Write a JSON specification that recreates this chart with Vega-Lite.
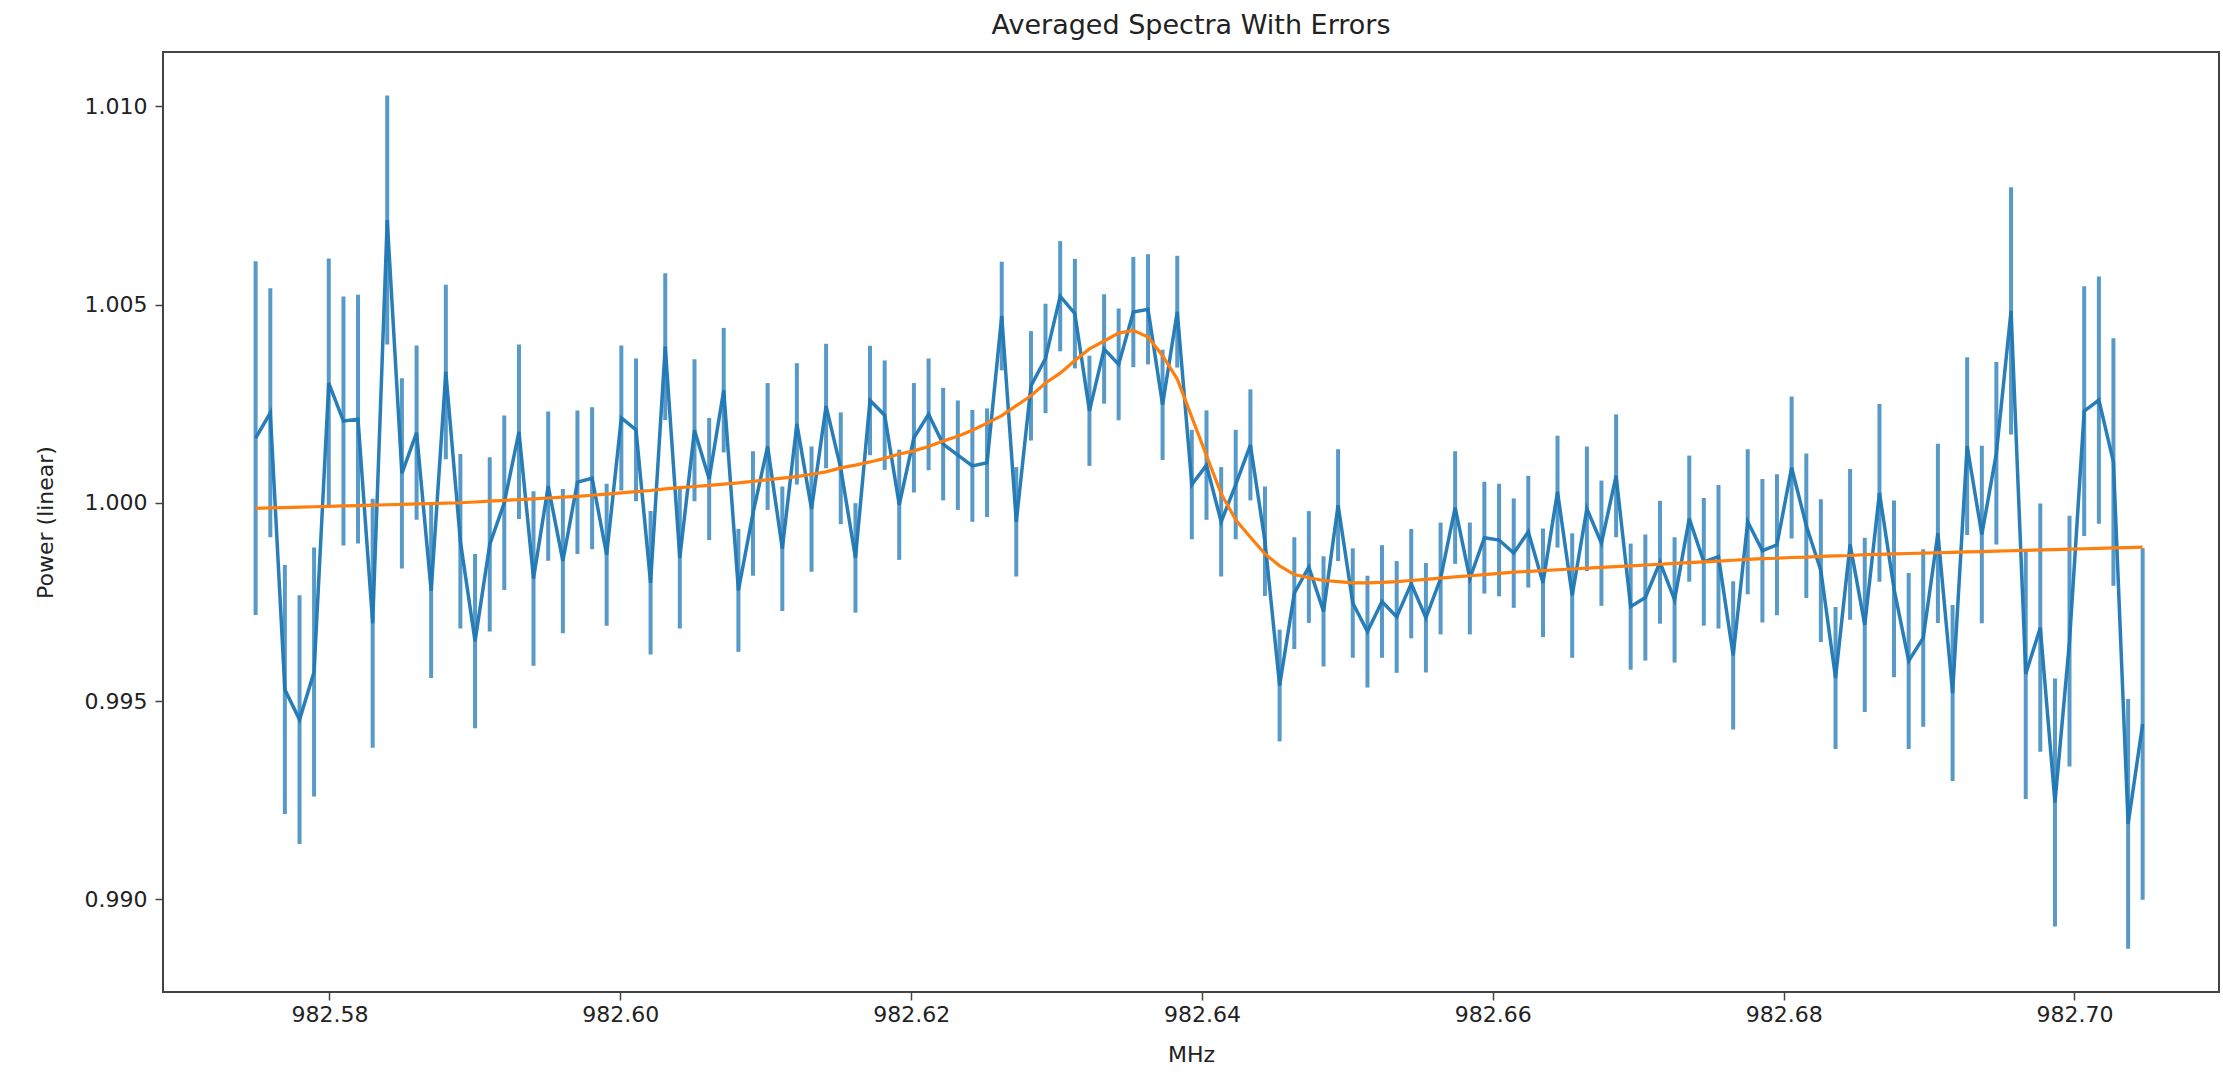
{
  "$schema": "https://vega.github.io/schema/vega-lite/v6.json",
  "autosize": "none",
  "width": 2056,
  "height": 940,
  "padding": {"left": 163, "top": 52, "right": 4, "bottom": 80},
  "background": "white",
  "title": {
    "text": "Averaged Spectra With Errors",
    "font": "DejaVu Sans",
    "fontSize": 27,
    "fontWeight": "normal",
    "color": "#222",
    "offset": 12
  },
  "config": {
    "view": {"stroke": "#444", "strokeWidth": 2},
    "axis": {
      "grid": false,
      "domain": false,
      "tickColor": "#444",
      "tickWidth": 1.5,
      "tickSize": 8,
      "labelFont": "DejaVu Sans",
      "labelFontSize": 22,
      "labelColor": "#222",
      "titleFont": "DejaVu Sans",
      "titleFontSize": 22,
      "titleFontWeight": "normal",
      "titleColor": "#222"
    }
  },
  "data": {
    "values": [
      {"freq": 982.57492, "power": 1.00163, "err": 0.00446, "fit": 0.99986},
      {"freq": 982.57593, "power": 1.00227, "err": 0.00314, "fit": 0.99987},
      {"freq": 982.57693, "power": 0.99529, "err": 0.00314, "fit": 0.99988},
      {"freq": 982.57794, "power": 0.99453, "err": 0.00314, "fit": 0.99989},
      {"freq": 982.57894, "power": 0.99573, "err": 0.00314, "fit": 0.99990},
      {"freq": 982.57995, "power": 1.00302, "err": 0.00314, "fit": 0.99991},
      {"freq": 982.58096, "power": 1.00206, "err": 0.00314, "fit": 0.99992},
      {"freq": 982.58196, "power": 1.00211, "err": 0.00314, "fit": 0.99993},
      {"freq": 982.58297, "power": 0.99696, "err": 0.00314, "fit": 0.99994},
      {"freq": 982.58397, "power": 1.00713, "err": 0.00314, "fit": 0.99995},
      {"freq": 982.58498, "power": 1.00074, "err": 0.00240, "fit": 0.99996},
      {"freq": 982.58599, "power": 1.00177, "err": 0.00220, "fit": 0.99997},
      {"freq": 982.58699, "power": 0.99778, "err": 0.00220, "fit": 0.99998},
      {"freq": 982.58800, "power": 1.00330, "err": 0.00220, "fit": 0.99999},
      {"freq": 982.58900, "power": 0.99903, "err": 0.00220, "fit": 1.00000},
      {"freq": 982.59001, "power": 0.99651, "err": 0.00220, "fit": 1.00002},
      {"freq": 982.59102, "power": 0.99895, "err": 0.00220, "fit": 1.00004},
      {"freq": 982.59202, "power": 1.00000, "err": 0.00220, "fit": 1.00006},
      {"freq": 982.59303, "power": 1.00179, "err": 0.00220, "fit": 1.00008},
      {"freq": 982.59403, "power": 0.99809, "err": 0.00220, "fit": 1.00010},
      {"freq": 982.59504, "power": 1.00042, "err": 0.00188, "fit": 1.00012},
      {"freq": 982.59605, "power": 0.99853, "err": 0.00182, "fit": 1.00014},
      {"freq": 982.59705, "power": 1.00052, "err": 0.00181, "fit": 1.00016},
      {"freq": 982.59806, "power": 1.00062, "err": 0.00179, "fit": 1.00019},
      {"freq": 982.59906, "power": 0.99869, "err": 0.00179, "fit": 1.00022},
      {"freq": 982.60007, "power": 1.00214, "err": 0.00183, "fit": 1.00025},
      {"freq": 982.60108, "power": 1.00184, "err": 0.00180, "fit": 1.00028},
      {"freq": 982.60208, "power": 0.99798, "err": 0.00181, "fit": 1.00031},
      {"freq": 982.60309, "power": 1.00394, "err": 0.00185, "fit": 1.00035},
      {"freq": 982.60409, "power": 0.99861, "err": 0.00178, "fit": 1.00038},
      {"freq": 982.60510, "power": 1.00183, "err": 0.00179, "fit": 1.00041},
      {"freq": 982.60611, "power": 1.00060, "err": 0.00154, "fit": 1.00044},
      {"freq": 982.60711, "power": 1.00284, "err": 0.00157, "fit": 1.00047},
      {"freq": 982.60812, "power": 0.99779, "err": 0.00155, "fit": 1.00050},
      {"freq": 982.60912, "power": 0.99973, "err": 0.00157, "fit": 1.00054},
      {"freq": 982.61013, "power": 1.00142, "err": 0.00160, "fit": 1.00058},
      {"freq": 982.61114, "power": 0.99884, "err": 0.00157, "fit": 1.00062},
      {"freq": 982.61214, "power": 1.00199, "err": 0.00153, "fit": 1.00066},
      {"freq": 982.61315, "power": 0.99984, "err": 0.00158, "fit": 1.00072},
      {"freq": 982.61415, "power": 1.00244, "err": 0.00157, "fit": 1.00078},
      {"freq": 982.61516, "power": 1.00087, "err": 0.00141, "fit": 1.00088},
      {"freq": 982.61617, "power": 0.99861, "err": 0.00138, "fit": 1.00095},
      {"freq": 982.61717, "power": 1.00258, "err": 0.00138, "fit": 1.00103},
      {"freq": 982.61818, "power": 1.00221, "err": 0.00138, "fit": 1.00112},
      {"freq": 982.61918, "power": 0.99995, "err": 0.00139, "fit": 1.00123},
      {"freq": 982.62019, "power": 1.00164, "err": 0.00138, "fit": 1.00131},
      {"freq": 982.62120, "power": 1.00223, "err": 0.00141, "fit": 1.00142},
      {"freq": 982.62220, "power": 1.00148, "err": 0.00142, "fit": 1.00156},
      {"freq": 982.62321, "power": 1.00120, "err": 0.00138, "fit": 1.00168},
      {"freq": 982.62421, "power": 1.00093, "err": 0.00141, "fit": 1.00183},
      {"freq": 982.62522, "power": 1.00101, "err": 0.00137, "fit": 1.00201},
      {"freq": 982.62623, "power": 1.00471, "err": 0.00137, "fit": 1.00220},
      {"freq": 982.62723, "power": 0.99952, "err": 0.00138, "fit": 1.00245},
      {"freq": 982.62824, "power": 1.00295, "err": 0.00138, "fit": 1.00270},
      {"freq": 982.62924, "power": 1.00364, "err": 0.00138, "fit": 1.00302},
      {"freq": 982.63025, "power": 1.00521, "err": 0.00139, "fit": 1.00327},
      {"freq": 982.63126, "power": 1.00477, "err": 0.00138, "fit": 1.00359},
      {"freq": 982.63226, "power": 1.00232, "err": 0.00139, "fit": 1.00388},
      {"freq": 982.63327, "power": 1.00388, "err": 0.00138, "fit": 1.00408},
      {"freq": 982.63427, "power": 1.00349, "err": 0.00141, "fit": 1.00428},
      {"freq": 982.63528, "power": 1.00481, "err": 0.00139, "fit": 1.00435},
      {"freq": 982.63629, "power": 1.00488, "err": 0.00139, "fit": 1.00418},
      {"freq": 982.63729, "power": 1.00247, "err": 0.00139, "fit": 1.00371},
      {"freq": 982.63830, "power": 1.00482, "err": 0.00141, "fit": 1.00312},
      {"freq": 982.63930, "power": 1.00046, "err": 0.00138, "fit": 1.00216},
      {"freq": 982.64031, "power": 1.00095, "err": 0.00138, "fit": 1.00119},
      {"freq": 982.64132, "power": 0.99952, "err": 0.00138, "fit": 1.00023},
      {"freq": 982.64232, "power": 1.00046, "err": 0.00138, "fit": 0.99957},
      {"freq": 982.64333, "power": 1.00146, "err": 0.00140, "fit": 0.99913},
      {"freq": 982.64433, "power": 0.99903, "err": 0.00138, "fit": 0.99871},
      {"freq": 982.64534, "power": 0.99539, "err": 0.00141, "fit": 0.99841},
      {"freq": 982.64635, "power": 0.99772, "err": 0.00141, "fit": 0.99819},
      {"freq": 982.64735, "power": 0.99838, "err": 0.00141, "fit": 0.99811},
      {"freq": 982.64836, "power": 0.99726, "err": 0.00139, "fit": 0.99804},
      {"freq": 982.64936, "power": 0.99994, "err": 0.00141, "fit": 0.99801},
      {"freq": 982.65037, "power": 0.99747, "err": 0.00138, "fit": 0.99798},
      {"freq": 982.65138, "power": 0.99675, "err": 0.00141, "fit": 0.99798},
      {"freq": 982.65238, "power": 0.99751, "err": 0.00142, "fit": 0.99799},
      {"freq": 982.65339, "power": 0.99712, "err": 0.00141, "fit": 0.99801},
      {"freq": 982.65439, "power": 0.99796, "err": 0.00138, "fit": 0.99804},
      {"freq": 982.65540, "power": 0.99710, "err": 0.00138, "fit": 0.99807},
      {"freq": 982.65641, "power": 0.99809, "err": 0.00141, "fit": 0.99810},
      {"freq": 982.65741, "power": 0.99988, "err": 0.00142, "fit": 0.99813},
      {"freq": 982.65842, "power": 0.99809, "err": 0.00141, "fit": 0.99816},
      {"freq": 982.65942, "power": 0.99912, "err": 0.00141, "fit": 0.99819},
      {"freq": 982.66043, "power": 0.99906, "err": 0.00142, "fit": 0.99822},
      {"freq": 982.66144, "power": 0.99873, "err": 0.00138, "fit": 0.99825},
      {"freq": 982.66244, "power": 0.99927, "err": 0.00141, "fit": 0.99827},
      {"freq": 982.66345, "power": 0.99798, "err": 0.00137, "fit": 0.99829},
      {"freq": 982.66445, "power": 1.00028, "err": 0.00141, "fit": 0.99831},
      {"freq": 982.66546, "power": 0.99766, "err": 0.00157, "fit": 0.99833},
      {"freq": 982.66647, "power": 0.99985, "err": 0.00157, "fit": 0.99835},
      {"freq": 982.66747, "power": 0.99898, "err": 0.00158, "fit": 0.99837},
      {"freq": 982.66848, "power": 1.00068, "err": 0.00155, "fit": 0.99839},
      {"freq": 982.66948, "power": 0.99738, "err": 0.00159, "fit": 0.99841},
      {"freq": 982.67049, "power": 0.99761, "err": 0.00159, "fit": 0.99843},
      {"freq": 982.67150, "power": 0.99850, "err": 0.00155, "fit": 0.99845},
      {"freq": 982.67250, "power": 0.99755, "err": 0.00158, "fit": 0.99847},
      {"freq": 982.67351, "power": 0.99960, "err": 0.00159, "fit": 0.99849},
      {"freq": 982.67451, "power": 0.99851, "err": 0.00161, "fit": 0.99851},
      {"freq": 982.67552, "power": 0.99864, "err": 0.00181, "fit": 0.99853},
      {"freq": 982.67653, "power": 0.99615, "err": 0.00187, "fit": 0.99855},
      {"freq": 982.67753, "power": 0.99952, "err": 0.00183, "fit": 0.99857},
      {"freq": 982.67854, "power": 0.99879, "err": 0.00181, "fit": 0.99859},
      {"freq": 982.67954, "power": 0.99894, "err": 0.00178, "fit": 0.99860},
      {"freq": 982.68055, "power": 1.00089, "err": 0.00179, "fit": 0.99862},
      {"freq": 982.68156, "power": 0.99942, "err": 0.00182, "fit": 0.99863},
      {"freq": 982.68256, "power": 0.99829, "err": 0.00180, "fit": 0.99865},
      {"freq": 982.68357, "power": 0.99558, "err": 0.00179, "fit": 0.99866},
      {"freq": 982.68457, "power": 0.99895, "err": 0.00190, "fit": 0.99867},
      {"freq": 982.68558, "power": 0.99692, "err": 0.00220, "fit": 0.99869},
      {"freq": 982.68659, "power": 1.00025, "err": 0.00224, "fit": 0.99870},
      {"freq": 982.68759, "power": 0.99783, "err": 0.00223, "fit": 0.99871},
      {"freq": 982.68860, "power": 0.99601, "err": 0.00222, "fit": 0.99872},
      {"freq": 982.68960, "power": 0.99659, "err": 0.00224, "fit": 0.99873},
      {"freq": 982.69061, "power": 0.99923, "err": 0.00226, "fit": 0.99874},
      {"freq": 982.69162, "power": 0.99520, "err": 0.00222, "fit": 0.99875},
      {"freq": 982.69262, "power": 1.00143, "err": 0.00224, "fit": 0.99876},
      {"freq": 982.69363, "power": 0.99920, "err": 0.00224, "fit": 0.99877},
      {"freq": 982.69463, "power": 1.00125, "err": 0.00230, "fit": 0.99878},
      {"freq": 982.69564, "power": 1.00484, "err": 0.00312, "fit": 0.99879},
      {"freq": 982.69665, "power": 0.99568, "err": 0.00315, "fit": 0.99880},
      {"freq": 982.69765, "power": 0.99685, "err": 0.00313, "fit": 0.99881},
      {"freq": 982.69866, "power": 0.99244, "err": 0.00313, "fit": 0.99882},
      {"freq": 982.69966, "power": 0.99651, "err": 0.00316, "fit": 0.99883},
      {"freq": 982.70067, "power": 1.00231, "err": 0.00315, "fit": 0.99884},
      {"freq": 982.70168, "power": 1.00259, "err": 0.00312, "fit": 0.99885},
      {"freq": 982.70268, "power": 1.00103, "err": 0.00312, "fit": 0.99886},
      {"freq": 982.70369, "power": 0.99190, "err": 0.00315, "fit": 0.99887},
      {"freq": 982.70469, "power": 0.99442, "err": 0.00443, "fit": 0.99888}
    ]
  },
  "encoding": {
    "x": {
      "field": "freq",
      "type": "quantitative",
      "title": "MHz",
      "scale": {"domain": [982.56855, 982.70994], "nice": false, "zero": false},
      "axis": {
        "values": [982.58, 982.6, 982.62, 982.64, 982.66, 982.68, 982.7],
        "format": ".2f",
        "labelPadding": 4,
        "titlePadding": 19
      }
    }
  },
  "layer": [
    {
      "mark": {
        "type": "errorbar",
        "color": "#1f77b4",
        "thickness": 4,
        "rule": {"strokeWidth": 4, "opacity": 0.75}
      },
      "encoding": {
        "y": {
          "field": "power",
          "type": "quantitative",
          "title": "Power (linear)",
          "scale": {"domain": [0.98766, 1.01137], "nice": false, "zero": false},
          "axis": {
            "values": [0.99, 0.995, 1.0, 1.005, 1.01],
            "format": ".3f",
            "labelPadding": 8,
            "titlePadding": 27
          }
        },
        "yError": {"field": "err"}
      }
    },
    {
      "mark": {"type": "line", "color": "#1f77b4", "strokeWidth": 3.5, "opacity": 0.95},
      "encoding": {
        "y": {"field": "power", "type": "quantitative"}
      }
    },
    {
      "mark": {"type": "line", "color": "#ff7f0e", "strokeWidth": 3.2},
      "encoding": {
        "y": {"field": "fit", "type": "quantitative"}
      }
    }
  ]
}
